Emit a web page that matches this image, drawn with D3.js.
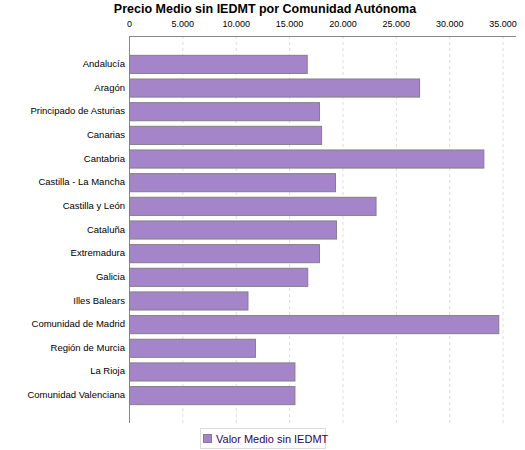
<!DOCTYPE html>
<html>
<head>
<meta charset="utf-8">
<script src="https://cdn.jsdelivr.net/npm/d3@7"></script>
<style>
  body { margin: 0; background: #fff; }
  text { font-family: "Liberation Sans", Arial, sans-serif; }
</style>
</head>
<body>
<svg id="chart" width="525" height="450"></svg>
<script>
// data
var regions = ["Andalucía", "Aragón", "Principado de Asturias", "Canarias", "Cantabria",
  "Castilla - La Mancha", "Castilla y León", "Cataluña", "Extremadura", "Galicia",
  "Illes Balears", "Comunidad de Madrid", "Región de Murcia", "La Rioja", "Comunidad Valenciana"];
var values = [16650, 27180, 17800, 18000, 33200, 19300, 23100, 19400, 17800, 16700,
  11100, 34600, 11800, 15500, 15500];
var ticks = [0, 5000, 10000, 15000, 20000, 25000, 30000, 35000];
var seriesName = "Valor Medio sin IEDMT";

var svg = d3.select("#chart");
var pl = 129, pr = 516, pt = 36, pb = 423;

var x = d3.scaleLinear().domain([0, 36260]).range([pl, pr]);
var y = d3.scaleBand().domain(regions).range([pt + 16, pb - 16]).paddingInner(0.235).paddingOuter(0.12);

svg.append("text")
  .attr("x", 265).attr("y", 13)
  .attr("text-anchor", "middle")
  .style("font-size", "12.5px").style("font-weight", "bold")
  .text("Precio Medio sin IEDMT por Comunidad Autónoma");

// grid
svg.append("g").selectAll("line").data(ticks.slice(1)).join("line")
  .attr("x1", d => x(d) + 0.5).attr("x2", d => x(d) + 0.5)
  .attr("y1", pt).attr("y2", pb)
  .attr("stroke", "#ddd").attr("stroke-dasharray", "3,3");

var fmt = d3.formatLocale({ decimal: ",", thousands: ".", grouping: [3], currency: ["", ""] }).format(",");

var xAxis = svg.append("g")
  .attr("transform", "translate(0," + (pt - 9) + ")")
  .call(d3.axisTop(x).tickValues(ticks).tickFormat(fmt).tickSize(0).tickPadding(0));
xAxis.select(".domain").remove();
xAxis.selectAll("text").style("font-size", "9px").attr("fill", "#000");

svg.append("line").attr("x1", pl).attr("x2", pr)
  .attr("y1", pt + 0.5).attr("y2", pt + 0.5).attr("stroke", "#888");
svg.append("line").attr("x1", pl + 0.5).attr("x2", pl + 0.5)
  .attr("y1", pt).attr("y2", pb).attr("stroke", "#888");

var yAxis = svg.append("g")
  .attr("transform", "translate(" + (pl - 4) + ",0)")
  .call(d3.axisLeft(y).tickSize(0).tickPadding(0));
yAxis.select(".domain").remove();
yAxis.selectAll("text").style("font-size", "9.5px").attr("fill", "#000");

svg.append("g").selectAll("rect").data(values).join("rect")
  .attr("x", pl + 0.5)
  .attr("y", (d, i) => y(regions[i]) + 0.5)
  .attr("width", d => x(d) - pl)
  .attr("height", y.bandwidth())
  .attr("fill", "#a585c9").attr("stroke", "#808080");

// legend
var lg = svg.append("g");
lg.append("rect").attr("x", 200.5).attr("y", 428.5).attr("width", 125).attr("height", 20)
  .attr("fill", "#fff").attr("stroke", "#ddd");
lg.append("rect").attr("x", 203.5).attr("y", 434.5).attr("width", 8).attr("height", 8)
  .attr("fill", "#a585c9").attr("stroke", "#808080");
lg.append("text").attr("x", 216).attr("y", 442.5)
  .style("font-size", "11px").attr("fill", "#330066").text(seriesName);
</script>
</body>
</html>
